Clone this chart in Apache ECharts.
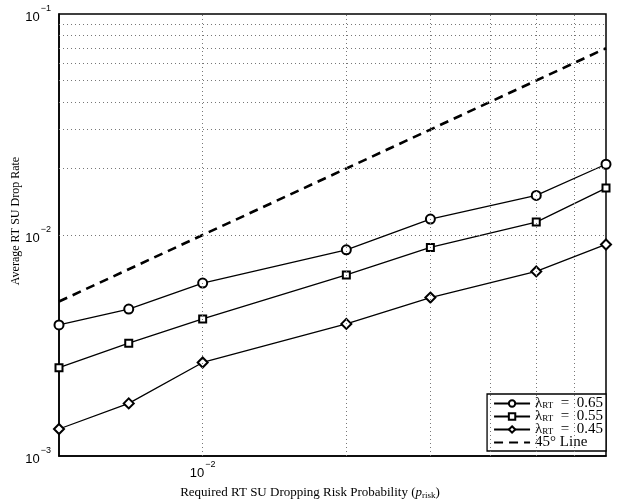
<!DOCTYPE html>
<html>
<head>
<meta charset="utf-8">
<script src="https://cdn.jsdelivr.net/npm/echarts@6/dist/echarts.min.js"></script>
<style>
  html, body { margin: 0; padding: 0; background: #fff; }
  #chart { width: 627px; height: 500px; }
</style>
</head>
<body>
<div id="chart"></div>
<script>
// required dropping risk probability (x) and measured drop rates (y)
const pRisk = [0.005, 0.007, 0.01, 0.02, 0.03, 0.05, 0.07];
const drop065 = [0.00392, 0.00462, 0.00606, 0.00857, 0.0118, 0.0151, 0.0209];
const drop055 = [0.00251, 0.00324, 0.00417, 0.0066, 0.00878, 0.01144, 0.0163];
const drop045 = [0.001325, 0.00173, 0.00265, 0.00396, 0.00521, 0.00684, 0.00906];
const line45 = [0.005, 0.007, 0.01, 0.02, 0.03, 0.05, 0.07];

// dotted grid positions (matlab style log grid)
const xGrid = [0.006, 0.007, 0.008, 0.009, 0.01, 0.02, 0.03, 0.04, 0.05, 0.06];
const yGrid = [0.002, 0.003, 0.004, 0.005, 0.006, 0.007, 0.008, 0.009,
               0.01, 0.02, 0.03, 0.04, 0.05, 0.06, 0.07, 0.08, 0.09];

const serif = '"Liberation Serif", "DejaVu Serif", serif';
const sans = '"Liberation Sans", Arial, sans-serif';

const chart = echarts.init(document.getElementById('chart'), null, { renderer: 'canvas' });

const pow10 = v => {
  const e = Math.log10(v);
  const r = Math.round(e);
  if (Math.abs(e - r) > 1e-6) return '';
  return '{b|10}{sup|' + (r < 0 ? '\u2212' + (-r) : r) + '}';
};

const tickRich = {
  b: { fontFamily: sans, fontSize: 13, color: '#000', lineHeight: 20, verticalAlign: 'bottom' },
  sup: { fontFamily: sans, fontSize: 9, color: '#000', lineHeight: 20, verticalAlign: 'top', padding: [0, 0, 0, 1] }
};

const pair = (xs, ys) => xs.map((x, i) => [x, ys[i]]);

const legendNames = {
  l65: '\u03bb{sub|RT}\u2002=\u20020.65',
  l55: '\u03bb{sub|RT}\u2002=\u20020.55',
  l45: '\u03bb{sub|RT}\u2002=\u20020.45',
  l45deg: '45\u00b0 Line'
};

const lineSeries = (name, ys, symbol, size) => ({
  name: name,
  type: 'line',
  data: pair(pRisk, ys),
  symbol: symbol,
  symbolSize: size,
  showAllSymbol: true,
  z: 3,
  lineStyle: { color: '#000', width: 1.3 },
  itemStyle: { color: '#000', borderColor: '#000', borderWidth: 1.1 },
  animation: false
});

const option = {
  animation: false,
  backgroundColor: '#fff',
  grid: {
    left: 59, right: 21, top: 14, bottom: 44,
    containLabel: false, outerBoundsMode: 'none',
    show: true, borderColor: '#000', borderWidth: 1.5
  },
  xAxis: {
    type: 'log',
    logBase: 10,
    min: 0.005,
    max: 0.07,
    name: 'Required RT SU Dropping Risk Probability ({i|p}{sub|risk})',
    nameLocation: 'middle',
    nameGap: 30,
    nameTextStyle: {
      fontFamily: serif, fontSize: 13, color: '#000', padding: [0, 45, 0, 0],
      rich: {
        i: { fontFamily: serif, fontStyle: 'italic', fontSize: 13, color: '#000' },
        sub: { fontFamily: serif, fontSize: 9, color: '#000', verticalAlign: 'bottom', padding: [5, 0, 0, 0] }
      }
    },
    axisLine: { show: true, lineStyle: { color: '#000', width: 1.5 } },
    axisTick: { show: false },
    splitLine: { show: false },
    axisLabel: { formatter: pow10, rich: tickRich, margin: 4, showMinLabel: false, showMaxLabel: false }
  },
  yAxis: {
    type: 'log',
    logBase: 10,
    min: 0.001,
    max: 0.1,
    interval: 1,
    name: 'Average RT SU Drop Rate',
    nameLocation: 'middle',
    nameGap: 37,
    nameMoveOverlap: false,
    nameTextStyle: { fontFamily: serif, fontSize: 12, color: '#000', padding: [0, 0, 0, 28] },
    axisLine: { show: true, lineStyle: { color: '#000', width: 1.5 } },
    axisTick: { show: false },
    splitLine: { show: false },
    axisLabel: { formatter: pow10, rich: tickRich, margin: 8 }
  },
  legend: {
    data: ['l65', 'l55', 'l45', {
      name: 'l45deg',
      itemStyle: { color: 'rgba(0,0,0,0)', borderWidth: 0 }
    }],
    orient: 'vertical',
    right: 21,
    bottom: 49,
    itemWidth: 36,
    itemHeight: 8,
    itemGap: -2,
    padding: [2, 3, 1, 6],
    backgroundColor: '#fff',
    borderColor: '#000',
    borderWidth: 1.3,
    formatter: n => legendNames[n],
    textStyle: {
      fontFamily: serif, fontSize: 15, color: '#000', lineHeight: 13,
      rich: {
        sub: { fontFamily: serif, fontSize: 9, color: '#000', lineHeight: 9, verticalAlign: 'bottom', padding: [4, 0, 0, 0] }
      }
    }
  },
  series: [
    {
      name: 'grid',
      type: 'line',
      data: [],
      z: 1,
      silent: true,
      markLine: {
        silent: true,
        symbol: ['none', 'none'],
        label: { show: false },
        animation: false,
        lineStyle: { type: [1, 3], color: '#777', width: 1 },
        data: xGrid.map(v => ({ xAxis: v })).concat(yGrid.map(v => ({ yAxis: v })))
      }
    },
    lineSeries('l65', drop065, 'emptyCircle', 9),
    lineSeries('l55', drop055, 'emptyRect', 7),
    lineSeries('l45', drop045, 'emptyDiamond', 10),
    {
      name: 'l45deg',
      type: 'line',
      data: pair(pRisk, line45),
      symbol: 'none',
      z: 3,
      lineStyle: { color: '#000', width: 2.6, type: [9, 6] },
      itemStyle: { color: '#000' }
    }
  ]
};

chart.setOption(option);
</script>
</body>
</html>
